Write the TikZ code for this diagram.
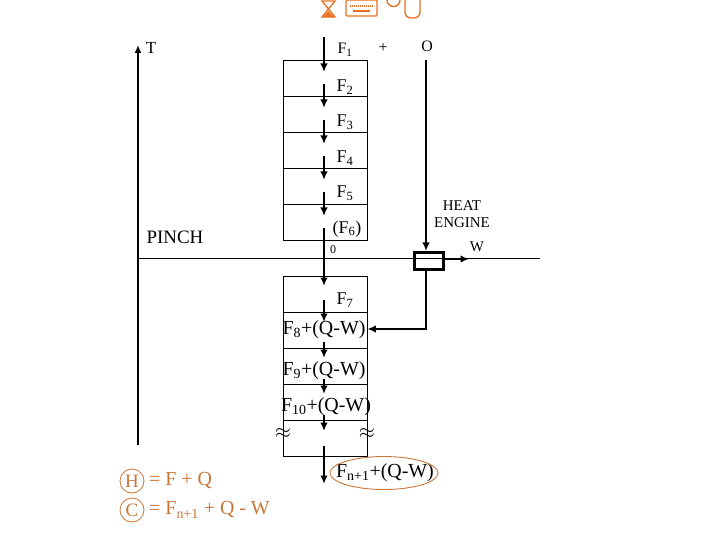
\documentclass[tikz,border=0pt]{standalone}
\usepackage{fontspec}
\setmainfont{Liberation Serif}
\usetikzlibrary{arrows.meta,shapes.geometric}
\definecolor{legor}{RGB}{200,118,56}
\definecolor{iconor}{RGB}{232,112,32}
\tikzset{
  flow/.style={line width=1.9bp,-{Latex[length=8.5bp,width=7.5bp]}},
  cell/.style={draw,line width=0.8bp,minimum width=84bp,minimum height=36bp,inner sep=0pt},
  lbl/.style={inner sep=0pt,font=\fontsize{18}{18}\selectfont},
  lblbig/.style={inner sep=0pt,font=\fontsize{20}{20}\selectfont},
  lblsm/.style={inner sep=0pt,font=\fontsize{15}{15}\selectfont},
  leg/.style={inner sep=0pt,text=legor,font=\fontsize{20}{20}\selectfont},
  circ/.style={draw=legor,circle,line width=0.8bp,minimum size=24bp,inner sep=0pt,text=legor,font=\fontsize{19}{19}\selectfont},
  icon/.style={draw=iconor,line width=1.3bp}
}
\begin{document}
\begin{tikzpicture}[x=1bp,y=-1bp]
\useasboundingbox (0,0) rectangle (720,540);
% top icons (slide artifacts)
\draw[icon] (322,1) -- (335,1) -- (322,17) -- (335,17) -- cycle;
\fill[iconor] (323,17) -- (328.5,11) -- (334,17) -- cycle;
\draw[icon,rounded corners=1bp] (346,0) rectangle (377,16);
\draw[iconor,line width=2bp,dash pattern=on 1bp off 1bp] (350,6) -- (373,6);
\draw[iconor,line width=1.3bp] (353,11) -- (370,11);
\draw[icon] (387,0) arc[start angle=180,end angle=360,radius=6.5bp];
\draw[icon,rounded corners=6bp] (405,-3) -- (405,18) -- (420,18) -- (420,-3);
% temperature axis
\coordinate (axB) at (138,445);
\coordinate (axT) at (138,45);
\draw[line width=2.4bp,-{Latex[length=8bp,width=7bp]}] (axB) -- (axT);
\node[inner sep=0pt,font=\fontsize{17}{17}\selectfont] (T) at (151,48) {T};
\node[inner sep=0pt,font=\fontsize{19}{19}\selectfont] (pinch) at (175,237) {PINCH};
% pinch line
\coordinate (pL) at (138,259);
\coordinate (pR) at (540,259);
\draw[line width=1bp] (pL) -- (pR);
% upper cells
\foreach \i/\y in {1/78,2/114,3/150,4/186,5/222}{
  \node[cell] (u\i) at (325,\y) {};
}
% lower cells
\foreach \i/\y in {1/294,2/330,3/366,4/402,5/438}{
  \node[cell] (d\i) at (325,\y) {};
}
% central flow arrows
\foreach \a/\b/\n in {37/72/1,84/108/2,120/144/3,156/180/4,192/216/5,228/286/6,300/322/7,342/358/8,379/394/9,415/431/10,446/484/11}{
  \coordinate (s\n) at (324,\a);
  \coordinate (e\n) at (324,\b);
  \draw[flow] (s\n) -- (e\n);
}
% labels
\node[inner sep=0pt,font=\fontsize{16}{16}\selectfont] (F1) at (345,50) {F\textsubscript{1}};
\node[inner sep=0pt,font=\fontsize{16}{16}\selectfont] (plus) at (383,48) {+};
\node[inner sep=0pt,font=\fontsize{16}{16}\selectfont] (Q) at (427,46) {O};
\node[lbl] (F2) at (345,87) {F\textsubscript{2}};
\node[lbl] (F3) at (345,122) {F\textsubscript{3}};
\node[lbl] (F4) at (345,158) {F\textsubscript{4}};
\node[lbl] (F5) at (345,193) {F\textsubscript{5}};
\node[lbl] (F6) at (347,229) {(F\textsubscript{6})};
\node[inner sep=0pt,font=\fontsize{12}{12}\selectfont] (zero) at (333,250) {0};
\node[lbl] (F7) at (345,300) {F\textsubscript{7}};
\node[lblbig] (F8) at (324,330) {F\textsubscript{8}+(Q-W)};
\node[lblbig] (F9) at (324,371) {F\textsubscript{9}+(Q-W)};
\node[lblbig] (F10) at (326,407) {F\textsubscript{10}+(Q-W)};
\node[lblbig] (ap1) at (283,434) {$\approx$};
\node[lblbig] (ap2) at (367,434) {$\approx$};
% heat engine
\node[draw,line width=3bp,minimum width=29bp,minimum height=17bp,inner sep=0pt] (he) at (429,261) {};
\coordinate (heTop) at (426,60);
\draw[flow,line width=1.7bp] (heTop) -- (he.north -| heTop);
\node[lblsm,align=center] (helbl) at (462,214) {HEAT\\[2bp]ENGINE};
\node[lblsm] (W) at (477,247) {W};
\coordinate (wEnd) at (469,259);
\draw[flow,line width=1.7bp] (he.east |- wEnd) -- (wEnd);
\coordinate (bend) at (426,329);
\draw[flow,line width=1.7bp] (he.south -| bend) -- (bend) -- (d2.east |- bend);
% final stream
\node[lblbig] (Fn) at (385,473) {F\textsubscript{n+1}+(Q-W)};
\node[draw=legor,ellipse,line width=0.9bp,minimum width=108bp,minimum height=33bp] (ell) at (384,473) {};
% legend
\node[circ] (H) at (132,481) {H};
\node[leg,anchor=west] (Heq) at (149,481) {= F + Q};
\node[circ] (C) at (132,510) {C};
\node[leg,anchor=west] (Ceq) at (149,510) {= F\textsubscript{n+1} + Q - W};
\end{tikzpicture}
\end{document}
